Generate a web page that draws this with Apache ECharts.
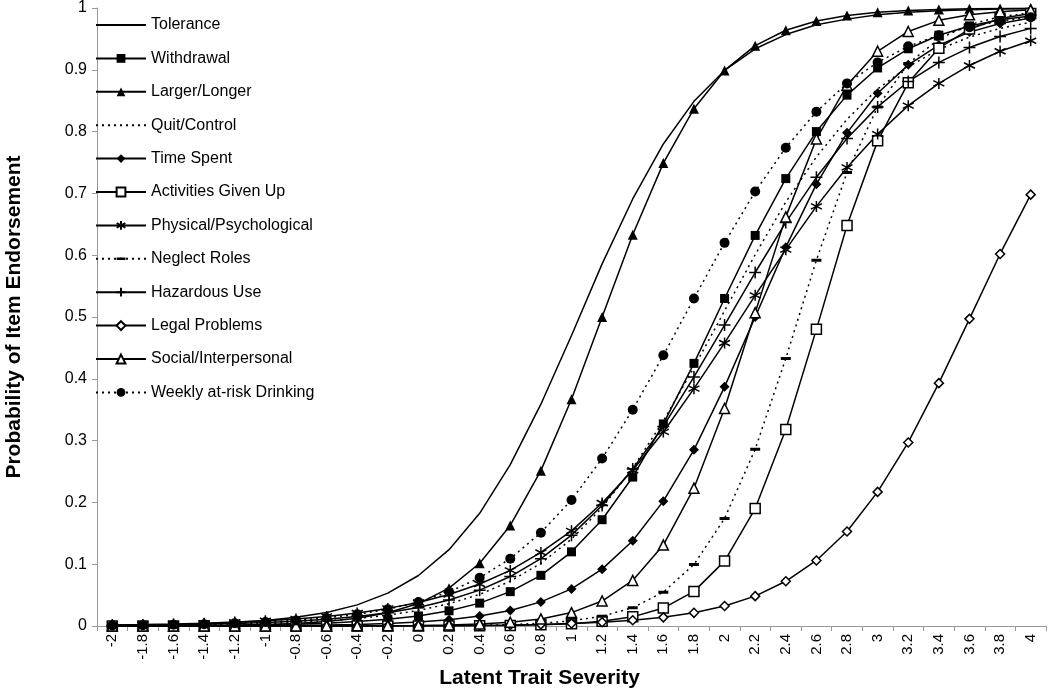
<!DOCTYPE html>
<html><head><meta charset="utf-8">
<script src="https://cdn.jsdelivr.net/npm/echarts@6/dist/echarts.min.js"></script>
<style>html,body{margin:0;padding:0;background:#fff}#c{width:1050px;height:698px}</style>
</head><body><div id="c"></div>
<script>
var categories = ["-2","-1.8","-1.6","-1.4","-1.2","-1","-0.8","-0.6","-0.4","-0.2","0","0.2","0.4","0.6","0.8","1","1.2","1.4","1.6","1.8","2","2.2","2.4","2.6","2.8","3","3.2","3.4","3.6","3.8","4"];
var yTicks = ["0","0.1","0.2","0.3","0.4","0.5","0.6","0.7","0.8","0.9","1"];
var tolerance = [0.0009,0.0014,0.0022,0.0036,0.0056,0.0088,0.014,0.0219,0.0342,0.0532,0.0817,0.1235,0.1824,0.2611,0.3589,0.47,0.586,0.691,0.78,0.849,0.899,0.934,0.957,0.973,0.982,0.989,0.993,0.9955,0.9972,0.9982,0.9989];
var withdrawal = [0.0002,0.0004,0.0006,0.0009,0.0013,0.002,0.003,0.0046,0.0071,0.0108,0.0163,0.0246,0.037,0.0556,0.082,0.12,0.172,0.241,0.327,0.425,0.53,0.632,0.724,0.8,0.859,0.903,0.934,0.956,0.971,0.981,0.987];
var largerLonger = [0.0002,0.0003,0.0005,0.0008,0.0014,0.0025,0.0042,0.0073,0.0125,0.0215,0.0363,0.0612,0.1015,0.1627,0.2514,0.367,0.5,0.633,0.749,0.837,0.899,0.939,0.964,0.979,0.988,0.993,0.996,0.9975,0.9986,0.9992,0.9995];
var quitControl = [0.0006,0.0009,0.0013,0.0019,0.0028,0.004,0.0058,0.0084,0.0121,0.0175,0.0251,0.036,0.0511,0.0724,0.1015,0.1406,0.1915,0.2554,0.3318,0.4182,0.51,0.601,0.686,0.759,0.82,0.869,0.905,0.933,0.953,0.967,0.977];
var timeSpent = [0.0001,0.0001,0.0002,0.0003,0.0004,0.0007,0.001,0.0016,0.0026,0.0041,0.0064,0.0102,0.016,0.025,0.039,0.06,0.092,0.138,0.202,0.285,0.387,0.5,0.613,0.715,0.798,0.862,0.908,0.94,0.961,0.975,0.984];
var activitiesGivenUp = [0,0,0,0,0,0,0,0,0,0.0001,0.0001,0.0002,0.0005,0.001,0.0019,0.0038,0.0075,0.0148,0.029,0.056,0.105,0.19,0.318,0.48,0.648,0.785,0.879,0.935,0.966,0.983,0.991];
var physicalPsych = [0.0019,0.0025,0.0034,0.0046,0.0063,0.0085,0.0115,0.0155,0.021,0.0285,0.038,0.051,0.068,0.09,0.119,0.154,0.199,0.252,0.314,0.384,0.458,0.535,0.609,0.679,0.742,0.796,0.842,0.878,0.907,0.93,0.947];
var neglectRoles = [0,0,0,0,0,0,0,0,0.0001,0.0002,0.0003,0.0006,0.0012,0.0023,0.0044,0.0083,0.0158,0.0296,0.0548,0.0996,0.174,0.286,0.433,0.592,0.734,0.84,0.91,0.95,0.973,0.986,0.992];
var hazardousUse = [0.001,0.0014,0.002,0.0028,0.004,0.0056,0.0078,0.011,0.0154,0.0216,0.03,0.042,0.058,0.08,0.109,0.147,0.195,0.254,0.323,0.403,0.487,0.572,0.653,0.726,0.789,0.84,0.881,0.912,0.936,0.954,0.967];
var legalProblems = [0,0,0,0,0,0,0,0.0001,0.0002,0.0003,0.0005,0.0007,0.0011,0.0017,0.0026,0.004,0.006,0.0093,0.014,0.0213,0.0323,0.0483,0.0724,0.106,0.153,0.217,0.297,0.393,0.497,0.602,0.698];
var socialInterpersonal = [0,0,0,0,0,0,0.0001,0.0001,0.0003,0.0005,0.0009,0.0017,0.0032,0.0061,0.0115,0.0217,0.0404,0.0738,0.131,0.223,0.352,0.507,0.662,0.788,0.875,0.93,0.962,0.98,0.989,0.994,0.997];
var weeklyDrinking = [0.001,0.0014,0.0021,0.003,0.0044,0.0063,0.0091,0.013,0.0189,0.0271,0.0388,0.0552,0.078,0.109,0.151,0.204,0.271,0.35,0.438,0.53,0.62,0.703,0.774,0.832,0.878,0.912,0.938,0.956,0.969,0.979,0.985];

var FONT = "'Liberation Sans', Arial, sans-serif";
var ASTER = 'path://M5,0L5,10M0.7,2.5L9.3,7.5M0.7,7.5L9.3,2.5';
var PLUS = 'path://M5,0L5,10M0,5L10,5';
var DASH = 'path://M0,0L0.01,0L0,0.01ZM0,3.5L10,3.5L10,6.5L0,6.5ZM10,10L9.99,10L10,9.99Z';
var DOT = [2, 4];

function mk(name, data, o) {
  var s = {
    name: name, type: 'line', data: data, smooth: false,
    symbol: o.symbol || 'circle', symbolSize: o.size || 9,
    showSymbol: !!o.symbol,
    lineStyle: { color: '#000', width: 1.5, type: o.dotted ? DOT : 'solid' },
    itemStyle: { color: o.hollow ? '#fff' : '#000', borderColor: '#000', borderWidth: o.hollow ? 1.5 : 0 },
    animation: false, z: 2
  };
  if (!o.symbol) {
    s.itemStyle = { color: 'rgba(0,0,0,0)', borderWidth: 0 };
  }
  if (o.stroke) {
    s.itemStyle = { color: 'none', borderColor: '#000', borderWidth: 1.5 };
  }
  return s;
}

var series = [
  mk('Tolerance', tolerance, {}),
  mk('Withdrawal', withdrawal, { symbol: 'rect', size: 9 }),
  mk('Larger/Longer', largerLonger, { symbol: 'triangle', size: 10 }),
  mk('Quit/Control', quitControl, { dotted: true }),
  mk('Time Spent', timeSpent, { symbol: 'diamond', size: 10 }),
  mk('Activities Given Up', activitiesGivenUp, { symbol: 'rect', size: 10, hollow: true }),
  mk('Physical/Psychological', physicalPsych, { symbol: ASTER, size: 11, stroke: true }),
  mk('Neglect Roles', neglectRoles, { symbol: DASH, size: 10, dotted: true }),
  mk('Hazardous Use', hazardousUse, { symbol: PLUS, size: 12, stroke: true }),
  mk('Legal Problems', legalProblems, { symbol: 'diamond', size: 9, hollow: true }),
  mk('Social/Interpersonal', socialInterpersonal, { symbol: 'triangle', size: 10, hollow: true }),
  mk('Weekly at-risk Drinking', weeklyDrinking, { symbol: 'circle', size: 10, dotted: true })
];

var chart = echarts.init(document.getElementById('c'), null, { renderer: 'canvas' });
chart.setOption({
  backgroundColor: '#fff',
  animation: false,
  textStyle: { fontFamily: FONT },
  grid: { left: 97, right: 4, top: 8, bottom: 72, containLabel: false, outerBoundsMode: 'none' },
  legend: {
    orient: 'vertical', left: 95, top: 17, padding: 0,
    itemWidth: 50, itemHeight: 11, itemGap: 17.4,
    textStyle: { fontSize: 16, color: '#000', fontFamily: FONT },
    data: series.map(function (s) { return s.name; })
  },
  xAxis: {
    type: 'category', data: categories, boundaryGap: true,
    name: 'Latent Trait Severity', nameLocation: 'middle', nameGap: 32,
    nameTextStyle: { fontSize: 21, fontWeight: 'bold', color: '#000', fontFamily: FONT, padding: [0, 64, 0, 0] },
    axisLine: { lineStyle: { color: '#999', width: 1 } },
    axisTick: { show: true, alignWithLabel: false, length: 5, lineStyle: { color: '#999' } },
    axisLabel: { rotate: 90, fontSize: 15, color: '#000', margin: 8, interval: 0, fontFamily: FONT },
    splitLine: { show: false }
  },
  yAxis: {
    type: 'value', min: 0, max: 1, interval: 0.1,
    name: 'Probability of Item Endorsement', nameLocation: 'middle', nameGap: 72, nameRotate: 90,
    nameTextStyle: { fontSize: 21, fontWeight: 'bold', color: '#000', fontFamily: FONT },
    axisLine: { show: true, lineStyle: { color: '#999', width: 1 } },
    axisTick: { show: true, length: 5, lineStyle: { color: '#999' } },
    axisLabel: { fontSize: 16, color: '#000', margin: 10, fontFamily: FONT,
      formatter: function (v) { return yTicks[Math.round(v * 10)]; } },
    splitLine: { show: false }
  },
  series: series
});
</script></body></html>
